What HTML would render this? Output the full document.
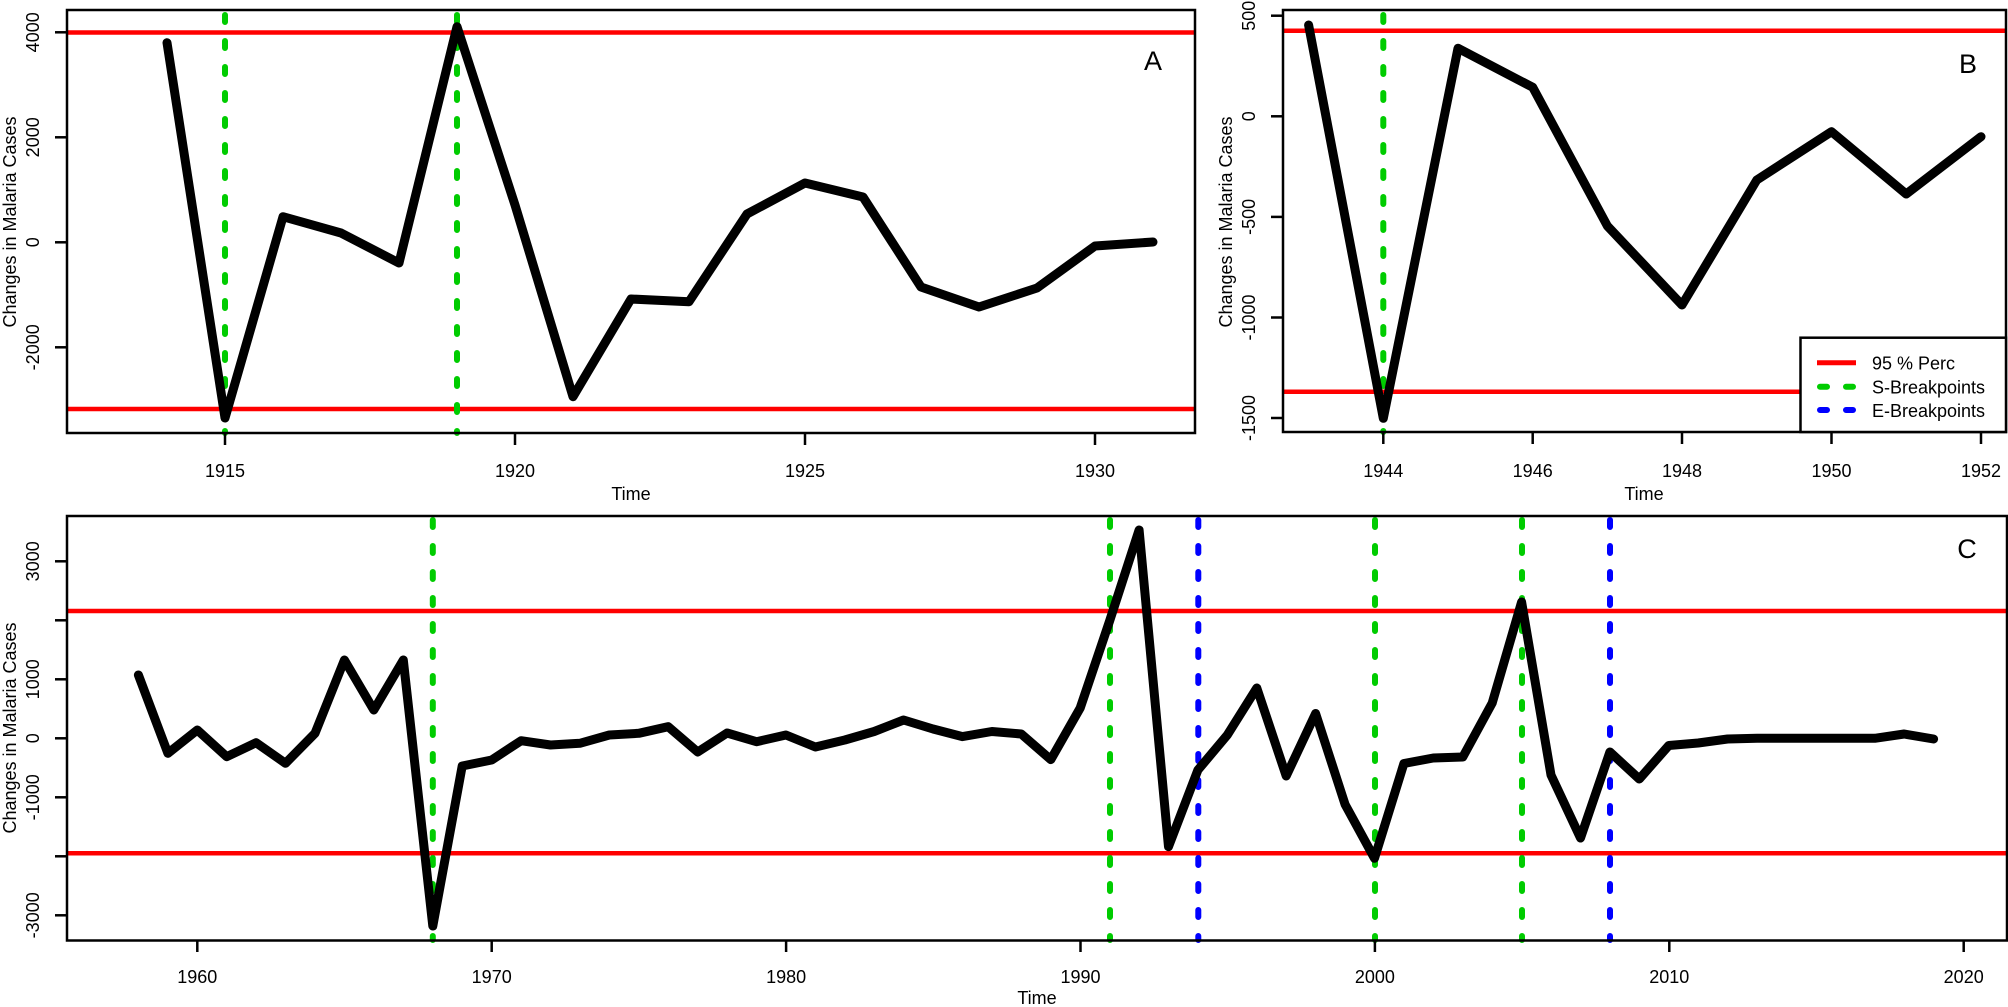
<!DOCTYPE html>
<html><head><meta charset="utf-8"><style>
html,body{margin:0;padding:0;background:#fff}
svg{display:block}
text{font-family:"Liberation Sans",Arial,sans-serif;fill:#000}
.t{font-size:18px}
.ttl{font-size:18px}
.d{fill:none;stroke:#000;stroke-width:9;stroke-linejoin:round;stroke-linecap:round}
.r{stroke:#ff0000;stroke-width:4.5}
.g{stroke:#00cc00;stroke-width:6;stroke-dasharray:7 19;stroke-linecap:round}
.b{stroke:#0000ff;stroke-width:6;stroke-dasharray:7 19;stroke-linecap:round}
.ax{stroke:#000;stroke-width:2.5;fill:none}
</style></head><body>
<svg width="2008" height="1007" viewBox="0 0 2008 1007" xmlns="http://www.w3.org/2000/svg">
<!-- Panel A -->
<line class="r" x1="67" y1="32.5" x2="1195" y2="32.5"/>
<line class="r" x1="67" y1="409" x2="1195" y2="409"/>
<line class="g" x1="225" y1="15" x2="225" y2="433"/>
<line class="g" x1="457" y1="15" x2="457" y2="433"/>
<polyline class="d" points="167,42.7 225,418 283,216.7 341,233 399,263 457,26.7 515,205 573,396.7 631,299 689,301.7 747,214 805,183 863,197 921,287 979,307 1037,288 1095,246 1153,242"/>
<rect class="ax" x="67" y="10" width="1128" height="423"/>
<g class="ax">
<line x1="225" y1="433" x2="225" y2="445"/><line x1="515" y1="433" x2="515" y2="445"/><line x1="805" y1="433" x2="805" y2="445"/><line x1="1095" y1="433" x2="1095" y2="445"/>
<line x1="67" y1="32.3" x2="55" y2="32.3"/><line x1="67" y1="137.3" x2="55" y2="137.3"/><line x1="67" y1="242.3" x2="55" y2="242.3"/><line x1="67" y1="347.3" x2="55" y2="347.3"/>
</g>
<g class="t" text-anchor="middle">
<text x="225" y="477">1915</text><text x="515" y="477">1920</text><text x="805" y="477">1925</text><text x="1095" y="477">1930</text>
<text transform="translate(39,32.3) rotate(-90)">4000</text>
<text transform="translate(39,137.3) rotate(-90)">2000</text>
<text transform="translate(39,242.3) rotate(-90)">0</text>
<text transform="translate(39,347.3) rotate(-90)">-2000</text>
</g>
<text class="ttl" text-anchor="middle" x="631" y="500">Time</text>
<text class="ttl" text-anchor="middle" transform="translate(16,222) rotate(-90)">Changes in Malaria Cases</text>
<text x="1153" y="70" text-anchor="middle" style="font-size:27px">A</text>

<!-- Panel B -->
<line class="r" x1="1283" y1="30.7" x2="2006" y2="30.7"/>
<line class="r" x1="1283" y1="391.7" x2="1800" y2="391.7"/>
<line class="g" x1="1383.3" y1="15" x2="1383.3" y2="432"/>
<polyline class="d" points="1308.6,25 1383.3,418.3 1458,48.3 1532.7,87.3 1607.4,226 1682,305 1756.8,180 1831.5,131.7 1906.2,194 1981,136.7"/>
<rect class="ax" x="1283" y="10" width="723" height="422"/>
<rect x="1800.5" y="337.7" width="205.5" height="94.3" fill="#fff" stroke="#000" stroke-width="2.5"/>
<line class="r" x1="1817" y1="362.7" x2="1856" y2="362.7" style="stroke-width:5"/>
<line class="g" x1="1820" y1="386.7" x2="1856" y2="386.7" style="stroke-dasharray:7 19"/>
<line class="b" x1="1820" y1="410" x2="1856" y2="410" style="stroke-dasharray:7 19"/>
<g class="t"><text x="1872" y="369.5">95 % Perc</text><text x="1872" y="393.5">S-Breakpoints</text><text x="1872" y="417">E-Breakpoints</text></g>
<g class="ax">
<line x1="1383.3" y1="432" x2="1383.3" y2="444"/><line x1="1532.7" y1="432" x2="1532.7" y2="444"/><line x1="1682" y1="432" x2="1682" y2="444"/><line x1="1831.5" y1="432" x2="1831.5" y2="444"/><line x1="1981" y1="432" x2="1981" y2="444"/>
<line x1="1283" y1="15.7" x2="1271" y2="15.7"/><line x1="1283" y1="116.3" x2="1271" y2="116.3"/><line x1="1283" y1="216.9" x2="1271" y2="216.9"/><line x1="1283" y1="317.5" x2="1271" y2="317.5"/><line x1="1283" y1="418" x2="1271" y2="418"/>
</g>
<g class="t" text-anchor="middle">
<text x="1383.3" y="477">1944</text><text x="1532.7" y="477">1946</text><text x="1682" y="477">1948</text><text x="1831.5" y="477">1950</text><text x="1981" y="477">1952</text>
<text transform="translate(1255,15.7) rotate(-90)">500</text>
<text transform="translate(1255,116.3) rotate(-90)">0</text>
<text transform="translate(1255,216.9) rotate(-90)">-500</text>
<text transform="translate(1255,317.5) rotate(-90)">-1000</text>
<text transform="translate(1255,418) rotate(-90)">-1500</text>
</g>
<text class="ttl" text-anchor="middle" x="1644" y="500">Time</text>
<text class="ttl" text-anchor="middle" transform="translate(1232,222) rotate(-90)">Changes in Malaria Cases</text>
<text x="1968" y="73" text-anchor="middle" style="font-size:27px">B</text>

<!-- Panel C -->
<line class="r" x1="67" y1="611" x2="2007" y2="611"/>
<line class="r" x1="67" y1="853.3" x2="2007" y2="853.3"/>
<g>
<line class="g" x1="432.8" y1="520" x2="432.8" y2="940"/>
<line class="g" x1="1110" y1="520" x2="1110" y2="940"/>
<line class="g" x1="1375" y1="520" x2="1375" y2="940"/>
<line class="g" x1="1522" y1="520" x2="1522" y2="940"/>
<line class="b" x1="1198.3" y1="520" x2="1198.3" y2="940"/>
<line class="b" x1="1610" y1="520" x2="1610" y2="940"/>
</g>
<polyline class="d" points="138.4,675 167.9,753.3 197.3,730 226.7,756.7 256.1,742.7 285.5,763.3 315,733.3 344.4,660 373.8,710 403.3,660 432.8,926 462.2,766 491.7,760 521.1,740.7 550.5,745 579.9,743.3 609.3,735 638.8,733.3 668.2,726.7 697.7,752 727.1,733 756.5,741.7 785.9,735 815.4,747 844.8,740 874.2,731.5 903.6,720 933.1,729 962.5,736.6 991.9,731.5 1021.3,734 1050.8,759.6 1080.2,708 1109.6,621 1139.1,530 1168.5,846.7 1197.9,770 1227.3,735 1256.8,688 1286.2,776 1315.6,713.5 1345.1,804.5 1374.5,858.3 1403.9,763.5 1433.3,758 1462.8,757 1492.2,703 1521.6,602 1551,775 1580.5,838 1609.9,752 1639.3,779 1668.8,745.5 1698.2,743 1727.6,739 1757,738.3 1786.5,738.3 1815.9,738.3 1845.3,738.3 1874.8,738.3 1904.2,734 1933.6,739"/>
<rect class="ax" x="67" y="516" width="1940" height="424.5"/>
<g class="ax">
<line x1="197.3" y1="940.5" x2="197.3" y2="952"/><line x1="491.7" y1="940.5" x2="491.7" y2="952"/><line x1="786.1" y1="940.5" x2="786.1" y2="952"/><line x1="1080.5" y1="940.5" x2="1080.5" y2="952"/><line x1="1374.9" y1="940.5" x2="1374.9" y2="952"/><line x1="1669.3" y1="940.5" x2="1669.3" y2="952"/><line x1="1963.7" y1="940.5" x2="1963.7" y2="952"/>
<line x1="67" y1="561.3" x2="55" y2="561.3"/><line x1="67" y1="620.3" x2="55" y2="620.3"/><line x1="67" y1="679.3" x2="55" y2="679.3"/><line x1="67" y1="738.3" x2="55" y2="738.3"/><line x1="67" y1="797.3" x2="55" y2="797.3"/><line x1="67" y1="856.3" x2="55" y2="856.3"/><line x1="67" y1="915.3" x2="55" y2="915.3"/>
</g>
<g class="t" text-anchor="middle">
<text x="197.3" y="983">1960</text><text x="491.7" y="983">1970</text><text x="786.1" y="983">1980</text><text x="1080.5" y="983">1990</text><text x="1374.9" y="983">2000</text><text x="1669.3" y="983">2010</text><text x="1963.7" y="983">2020</text>
<text transform="translate(39,561.3) rotate(-90)">3000</text>
<text transform="translate(39,679.3) rotate(-90)">1000</text>
<text transform="translate(39,738.3) rotate(-90)">0</text>
<text transform="translate(39,797.3) rotate(-90)">-1000</text>
<text transform="translate(39,915.3) rotate(-90)">-3000</text>
</g>
<text class="ttl" text-anchor="middle" x="1037" y="1004">Time</text>
<text class="ttl" text-anchor="middle" transform="translate(16,728) rotate(-90)">Changes in Malaria Cases</text>
<text x="1967" y="558" text-anchor="middle" style="font-size:27px">C</text>
</svg>
</body></html>
